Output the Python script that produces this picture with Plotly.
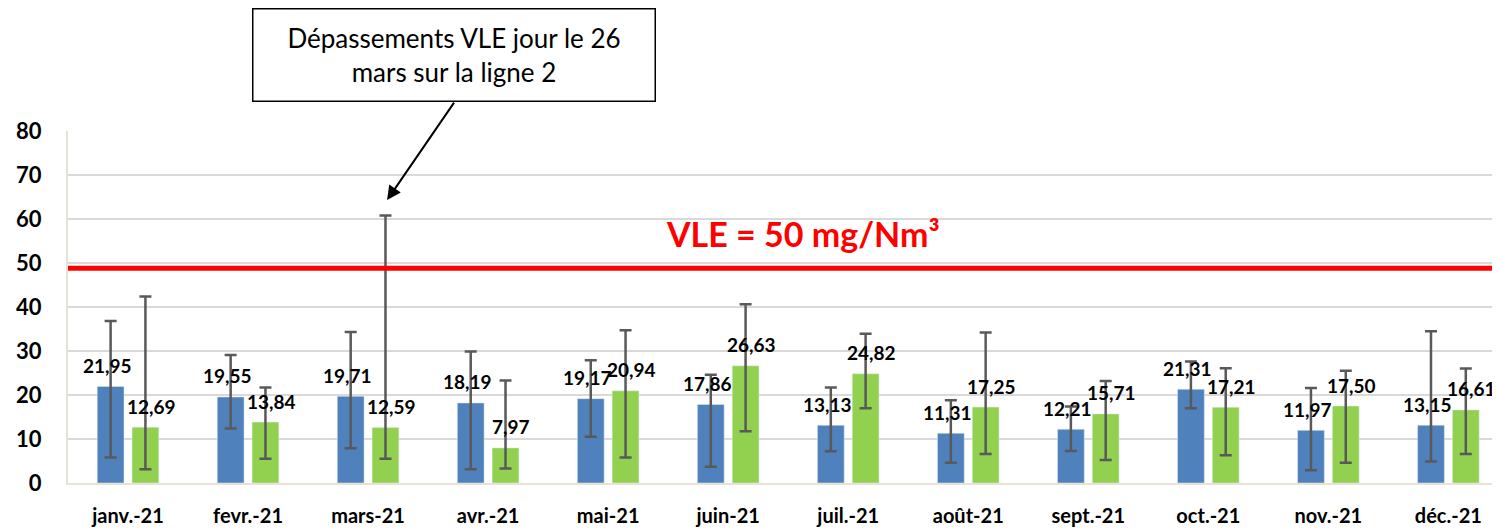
import plotly.graph_objects as go

months = ["janv.-21", "fevr.-21", "mars-21", "avr.-21", "mai-21", "juin-21",
          "juil.-21", "août-21", "sept.-21", "oct.-21", "nov.-21", "déc.-21"]
ligne1 = [21.95, 19.55, 19.71, 18.19, 19.17, 17.86, 13.13, 11.31, 12.21, 21.31, 11.97, 13.15]
ligne2 = [12.69, 13.84, 12.59, 7.97, 20.94, 26.63, 24.82, 17.25, 15.71, 17.21, 17.50, 16.61]
ligne1_max = [36.8, 29.1, 34.3, 29.9, 27.9, 24.6, 21.7, 18.8, 17.4, 27.6, 21.6, 34.5]
ligne1_min = [5.8, 12.4, 7.9, 3.1, 10.5, 3.7, 7.2, 4.6, 7.3, 17.0, 2.9, 4.9]
ligne2_max = [42.4, 21.7, 60.8, 23.3, 34.7, 40.6, 33.9, 34.2, 23.2, 26.1, 25.5, 26.0]
ligne2_min = [3.1, 5.5, 5.5, 3.3, 5.8, 11.75, 17.0, 6.6, 5.2, 6.3, 4.6, 6.6]
vle = 48.8
yticks = [0, 10, 20, 30, 40, 50, 60, 70, 80]

FONT = "Lato"
BLUE = "#4f81bd"
GREEN = "#92d050"
ERR = "#595959"

def err(vals, hi, lo):
    return dict(type="data", symmetric=False,
                array=[h - v for v, h in zip(vals, hi)],
                arrayminus=[v - l for v, l in zip(vals, lo)],
                color=ERR, thickness=2.5, width=6)

fig = go.Figure()
fig.add_trace(go.Bar(x=months, y=ligne1, name="Ligne 1", marker_color=BLUE,
                     error_y=err(ligne1, ligne1_max, ligne1_min)))
fig.add_trace(go.Bar(x=months, y=ligne2, name="Ligne 2", marker_color=GREEN,
                     error_y=err(ligne2, ligne2_max, ligne2_min)))

def fmt(v):
    return f"{v:.2f}".replace(".", ",")

annotations = []
for m, v in zip(months, ligne1):
    annotations.append(dict(x=m, y=v, xref="x", yref="y", text=fmt(v), showarrow=False,
                            xshift=-21, yshift=21,
                            font=dict(family=FONT, size=19, color="black", weight="bold")))
for m, v in zip(months, ligne2):
    annotations.append(dict(x=m, y=v, xref="x", yref="y", text=fmt(v), showarrow=False,
                            xshift=23, yshift=21,
                            font=dict(family=FONT, size=19, color="black", weight="bold")))

annotations.append(dict(x=0.513, xref="paper", y=vle + 7.9, yref="y",
                        xanchor="center", yanchor="middle",
                        text="VLE = 50 mg/Nm³", showarrow=False,
                        font=dict(family=FONT, size=34, color="#ff0000", weight="bold")))

# arrow pointing at the March exceedance
annotations.append(dict(x="mars-21", y=ligne2_max[2] + 3.5, xref="x", yref="y", xshift=19,
                        text="", showarrow=True, ax=68, ay=-99, arrowhead=2, arrowsize=1.4,
                        arrowwidth=2, arrowcolor="black"))
# callout box
annotations.append(dict(x=0.2693, xref="paper", y=1.216, yref="paper",
                        xanchor="center", yanchor="middle",
                        text="Dépassements VLE jour le 26<br>mars sur la ligne 2",
                        showarrow=False,
                        bgcolor="white", bordercolor="black", borderwidth=1.5, borderpad=4,
                        width=393, height=83, align="center",
                        font=dict(family=FONT, size=26, color="black")))

fig.add_shape(type="line", xref="paper", yref="y", x0=0, x1=1, y0=vle, y1=vle,
              line=dict(color="#ff0000", width=5))

fig.update_layout(
    width=1500, height=529,
    margin=dict(l=55, r=8, t=123, b=54),
    plot_bgcolor="white", paper_bgcolor="white",
    barmode="group", bargap=0.42, bargroupgap=0.23,
    showlegend=False,
    annotations=annotations,
    font=dict(family=FONT, color="black"),
)
fig.update_xaxes(range=[-0.5, 11.43], showgrid=False, showline=True, linecolor="#e6e2d6",
                 linewidth=2, ticks="", ticklabelstandoff=14,
                 tickfont=dict(family=FONT, size=20, color="black", weight="bold"))
fig.update_yaxes(range=[0, 80], tickvals=yticks, showgrid=True, gridcolor="#d9d9d9",
                 gridwidth=2, showline=True, linecolor="#e6e2d6", linewidth=2,
                 zeroline=False, ticks="", ticklabelstandoff=20,
                 tickfont=dict(family=FONT, size=22, color="black", weight="bold"))

fig.write_html("out.html")
